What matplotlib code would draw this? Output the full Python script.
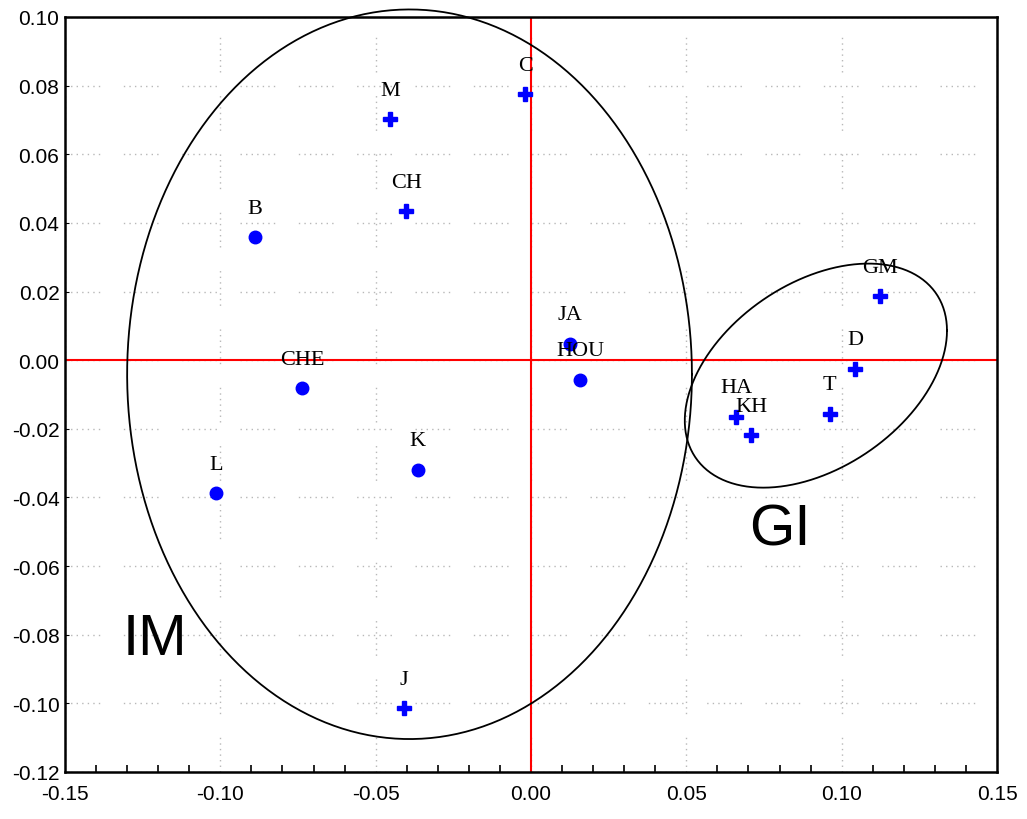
import numpy as np
import matplotlib
matplotlib.use("Agg")
import matplotlib.pyplot as plt

# point labels and coordinates
names = ["C", "M", "CH", "B", "JA", "HOU", "CHE", "K", "L", "J",
         "GM", "D", "T", "HA", "KH"]
xs = [-0.0019, -0.0454, -0.0402, -0.0888, 0.0126, 0.0158, -0.0737, -0.0364,
      -0.1014, -0.0409, 0.1123, 0.1043, 0.0962, 0.0660, 0.0708]
ys = [0.0775, 0.0702, 0.0434, 0.0358, 0.0047, -0.0058, -0.0082, -0.0320,
      -0.0388, -0.1014, 0.0186, -0.0026, -0.0157, -0.0166, -0.0219]
round_pts = {"B", "JA", "HOU", "CHE", "K", "L"}

# group ellipses (centre, half-extents) and group names
im_center = (-0.0391, -0.0041)
im_half = (0.0909, 0.1063)
gi_center = (0.0917, -0.0045)
gi_half_x = 0.0422
gi_shear = 0.0131      # y offset at the x-extreme (tilt)
gi_half_y = 0.0299
group_names = ["IM", "GI"]
group_pos = [(-0.1210, -0.0813), (0.0801, -0.0492)]

xticks = np.round(np.arange(-0.15, 0.151, 0.05), 2)
yticks = np.round(np.arange(-0.12, 0.101, 0.02), 2)

fig = plt.figure(figsize=(10.27, 8.2), dpi=100)
ax = fig.add_axes([65 / 1027, 1 - 773 / 820, 932 / 1027, 755 / 820])

ax.set_xlim(-0.15, 0.15)
ax.set_ylim(-0.12, 0.10)

# grouped-dot grid like the original
dots = (0, (1, 3) * 6 + (1, 17))
ax.set_xticks(xticks)
ax.set_yticks(yticks)
ax.grid(True, color="#b8b8b8", linestyle=dots, linewidth=1.0)
ax.set_axisbelow(True)

ax.axhline(0, color="red", lw=1.5, zorder=2)
ax.axvline(0, color="red", lw=1.5, zorder=2)

# ellipses
t = np.linspace(0, 2 * np.pi, 400)
ax.plot(im_center[0] + im_half[0] * np.cos(t),
        im_center[1] + im_half[1] * np.sin(t), color="black", lw=1.3,
        zorder=3, clip_on=False)
ax.plot(gi_center[0] + gi_half_x * np.cos(t),
        gi_center[1] + gi_shear * np.cos(t) + gi_half_y * np.sin(t),
        color="black", lw=1.3, zorder=3)

for name, x, y in zip(names, xs, ys):
    mk = "o" if name in round_pts else "P"
    ms = 9 if name in round_pts else 10
    ax.plot(x, y, marker=mk, color="blue", ms=ms, mec="blue", zorder=4)
    ax.annotate(name, (x, y), xytext=(0, 21), textcoords="offset points",
                ha="center", va="center", fontsize=16,
                family="Liberation Serif", zorder=5)

for g, (gx, gy) in zip(group_names, group_pos):
    ax.text(gx, gy, g, fontsize=42, ha="center", va="center",
            family="Liberation Sans")

ax.set_xticklabels([f"{v:.2f}" for v in xticks])
ax.set_yticklabels([f"{v:.2f}" for v in yticks])
ax.xaxis.set_minor_locator(matplotlib.ticker.MultipleLocator(0.01))
ax.tick_params(axis="both", which="both", direction="in", labelsize=15)
ax.tick_params(axis="x", which="major", length=0, pad=9)
ax.tick_params(axis="x", which="minor", length=5, width=1.2)
ax.tick_params(axis="y", length=3, pad=4)
for lab in ax.get_xticklabels() + ax.get_yticklabels():
    lab.set_family("Liberation Sans")

for s in ax.spines.values():
    s.set_linewidth(1.8)

fig.savefig("out.png", dpi=100)
